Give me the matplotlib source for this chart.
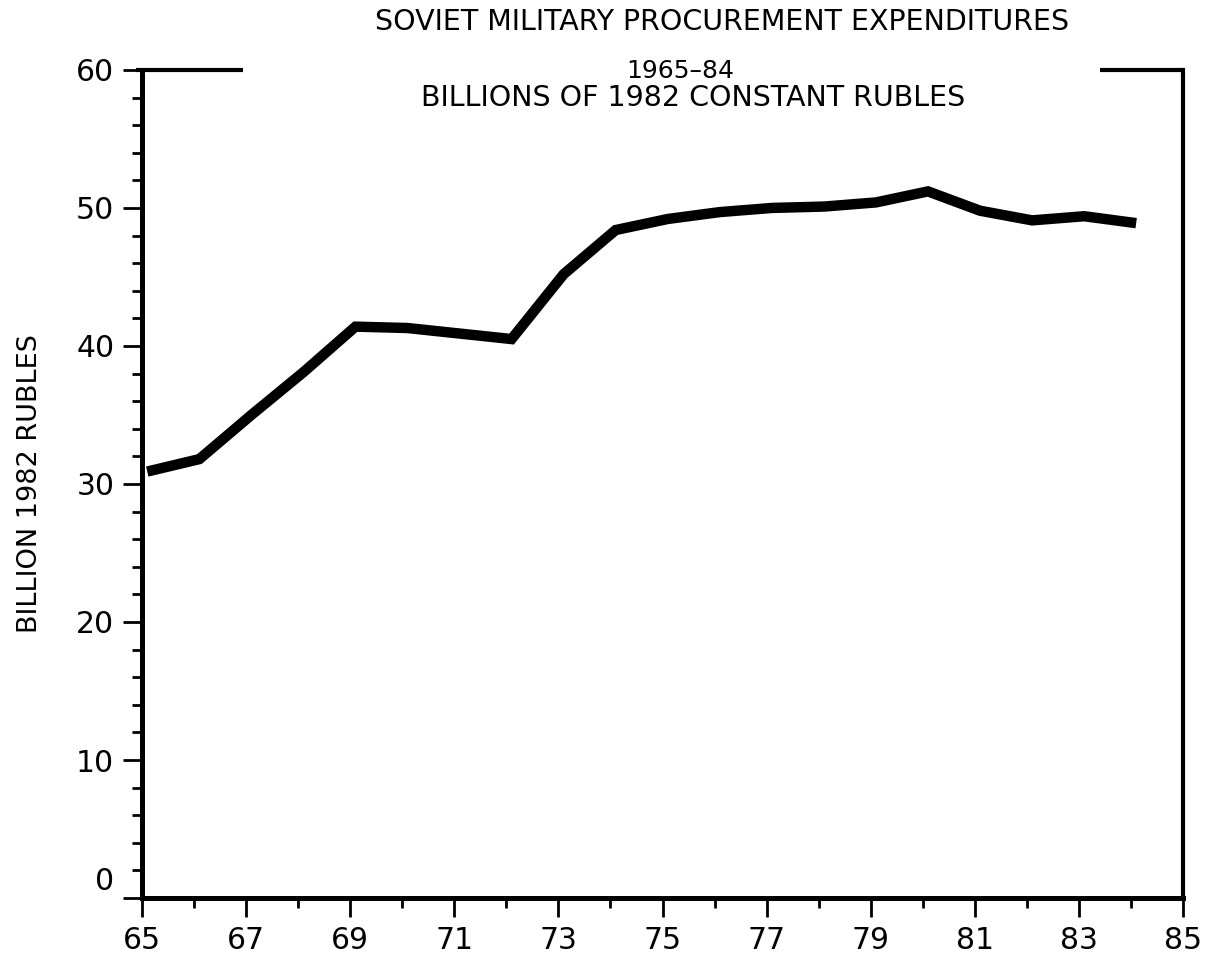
import numpy as np
import matplotlib.pyplot as plt
from matplotlib.transforms import ScaledTranslation

# data
years = [1965, 1966, 1967, 1968, 1969, 1970, 1971, 1972, 1973, 1974,
         1975, 1976, 1977, 1978, 1979, 1980, 1981, 1982, 1983, 1984]
rubles = [30.9, 31.8, 35.0, 38.1, 41.4, 41.3, 40.9, 40.5, 45.2, 48.4,
          49.2, 49.7, 50.0, 50.1, 50.4, 51.2, 49.8, 49.1, 49.4, 48.9]
xticks = [65, 67, 69, 71, 73, 75, 77, 79, 81, 83, 85]
yticks = [0, 10, 20, 30, 40, 50, 60]

title1 = "SOVIET MILITARY PROCUREMENT EXPENDITURES"
title2 = "1965\u201384"
title3 = "BILLIONS OF 1982 CONSTANT RUBLES"
ylabel = "BILLION 1982 RUBLES"

plt.rcParams["font.family"] = ["DejaVu Sans"]

fig = plt.figure(figsize=(12.09, 9.58), dpi=100)
ax = fig.add_axes([0.1175, 0.0626, 0.861, 0.8644])

# plotted a little after each year mark, as in the original
x = np.array(years) - 1900 + 0.1
ax.plot(x, rubles, color="black", linewidth=7.5, solid_joinstyle="miter",
        solid_capstyle="butt")

ax.set_xlim(65, 85)
ax.set_ylim(0, 60)
ax.set_xticks(xticks)
ax.set_xticks(range(66, 85, 2), minor=True)
ax.set_yticks(yticks)
ax.set_yticks([v for v in range(0, 61, 2) if v % 10 != 0], minor=True)
ax.tick_params(axis="both", which="major", direction="out", length=14,
               width=2, labelsize=21.5, pad=6)
ax.tick_params(axis="both", which="minor", direction="out", length=7, width=2)

# the "0" label sits a bit above its tick in the original
lab0 = ax.get_yticklabels()[0]
lab0.set_transform(lab0.get_transform() + ScaledTranslation(0, 0.2, fig.dpi_scale_trans))

# spines: left/bottom heavy, right lighter, top only partly drawn
ax.spines["left"].set_linewidth(3.6)
ax.spines["bottom"].set_linewidth(3.6)
ax.spines["right"].set_linewidth(3)
ax.spines["top"].set_visible(False)
ax.plot([-0.006, 0.097], [1, 1], transform=ax.transAxes, color="black",
        linewidth=3, clip_on=False, solid_capstyle="butt")
ax.plot([0.92, 1.0], [1, 1], transform=ax.transAxes, color="black",
        linewidth=3, clip_on=False, solid_capstyle="butt")

ax.set_ylabel(ylabel, fontsize=19.5, labelpad=24)

fig.text(0.597, 0.977, title1, ha="center", va="center", fontsize=20.5)
fig.text(0.563, 0.926, title2, ha="center", va="center", fontsize=18)
fig.text(0.573, 0.898, title3, ha="center", va="center", fontsize=20.5)

plt.savefig("out.png", dpi=100)
